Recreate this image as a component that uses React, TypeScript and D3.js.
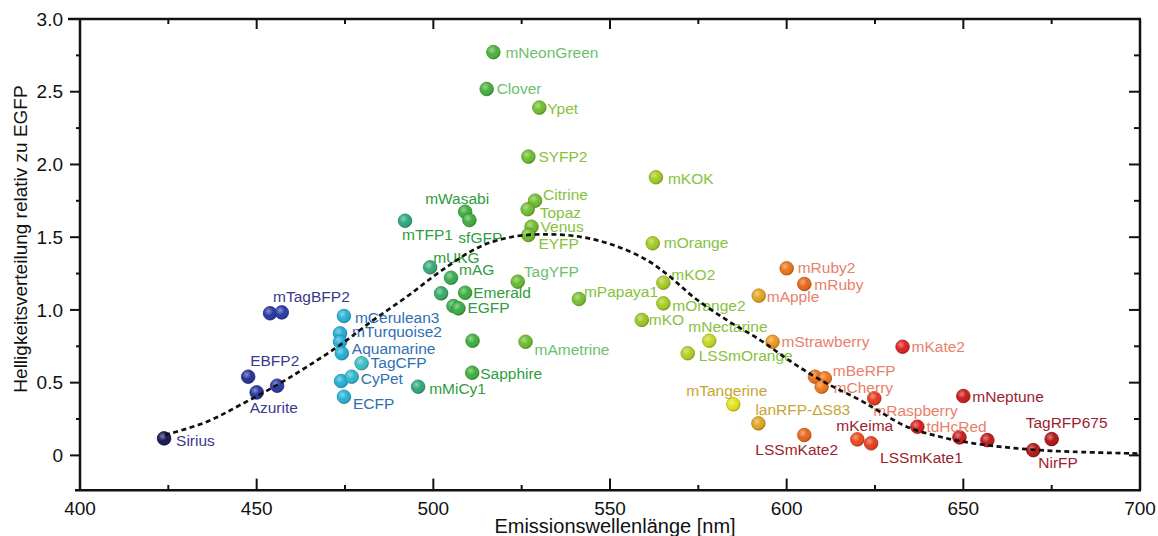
import React from "react";
import * as d3 from "d3";

// Fluoreszenzproteine: Emissionsmaximum (nm) und Helligkeit relativ zu EGFP
// leerer Name = Punkt ohne Beschriftung
const proteinNames = [
  "Sirius", "mTagBFP2", "", "EBFP2", "Azurite", "",
  "mCerulean3", "mTurquoise2", "", "Aquamarine", "TagCFP", "", "CyPet", "ECFP",
  "mMiCy1", "Sapphire", "mTFP1", "mWasabi", "sfGFP", "mUKG", "mAG", "", "Emerald",
  "", "EGFP", "", "mAmetrine", "TagYFP", "mPapaya1", "Citrine", "Topaz", "Venus",
  "EYFP", "mNeonGreen", "Clover", "Ypet", "SYFP2", "mKOK", "mOrange", "mKO2",
  "mOrange2", "mKO", "mNectarine", "LSSmOrange", "mTangerine", "lanRFP-ΔS83",
  "mApple", "mStrawberry", "mRuby2", "mRuby", "mKate2", "", "mBeRFP", "mCherry",
  "mRaspberry", "mKeima", "LSSmKate1", "LSSmKate2", "tdHcRed", "", "", "mNeptune",
  "TagRFP675", "NirFP",
];

const emissionNm = [
  423.8, 453.8, 457.1, 447.6, 450.0, 455.8,
  474.7, 473.6, 473.6, 474.1, 479.7, 473.9, 476.9, 474.7,
  495.7, 511.0, 492.0, 509.0, 510.2, 499.1, 505.0, 502.2, 509.0,
  505.7, 507.1, 511.1, 526.1, 523.9, 541.2, 528.8, 526.7, 527.8,
  526.9, 517.0, 515.1, 530.0, 526.9, 563.0, 562.1, 565.1,
  565.1, 559.0, 578.1, 572.0, 584.9, 592.0,
  592.1, 596.0, 600.0, 605.0, 632.8, 608.0, 610.8, 609.9,
  624.8, 620.0, 623.9, 605.0, 637.0, 648.9, 656.8, 650.0,
  675.0, 669.8,
];

const brightness = [
  0.117, 0.977, 0.983, 0.541, 0.433, 0.479,
  0.958, 0.839, 0.781, 0.702, 0.633, 0.511, 0.541, 0.403,
  0.472, 0.568, 1.613, 1.675, 1.618, 1.293, 1.221, 1.114, 1.118,
  1.027, 1.011, 0.788, 0.781, 1.194, 1.075, 1.751, 1.692, 1.572,
  1.515, 2.772, 2.519, 2.391, 2.054, 1.912, 1.458, 1.187,
  1.045, 0.931, 0.788, 0.702, 0.351, 0.220,
  1.098, 0.781, 1.286, 1.178, 0.747, 0.541, 0.530, 0.472,
  0.392, 0.110, 0.083, 0.140, 0.197, 0.124, 0.105, 0.408,
  0.112, 0.036,
];

// Farbgruppe der Beschriftung
const labelGroup = [
  "blau", "blau", "blau", "blau", "blau", "blau",
  "cyan", "cyan", "cyan", "cyan", "cyan", "cyan", "cyan", "cyan",
  "gruen", "gruen", "gruen", "gruen", "gruen", "gruen", "gruen", "gruen", "gruen",
  "gruen", "gruen", "gruen", "hellgruen", "hellgruen", "gelbgruen", "gelbgruen", "gelbgruen", "gelbgruen",
  "gelbgruen", "hellgruen", "hellgruen", "gelbgruen", "gelbgruen", "gelbgruen", "gelbgruen", "gelbgruen",
  "gelbgruen", "gelbgruen", "gelbgruen", "gelbgruen", "gelb", "gelb",
  "orange", "orange", "orange", "orange", "orange", "orange", "orange", "orange",
  "orange", "rot", "rot", "rot", "orange", "rot", "rot", "rot",
  "rot", "rot",
];

// gestrichelte Verteilungskurve
const curveNm = [
  424.1, 435.9, 445.3, 455.7, 464.2, 473.6, 483.0, 492.5, 501.9, 513.2, 522.5,
  532.1, 541.5, 550.9, 560.4, 567.0, 573.5, 583.0, 592.5, 601.8, 611.3, 620.8,
  626.4, 634.0, 643.4, 652.8, 662.3, 671.7, 681.0, 700.0,
];
const curveBrightness = [
  0.14, 0.231, 0.346, 0.483, 0.609, 0.759, 0.93, 1.091, 1.263, 1.435, 1.503,
  1.52, 1.503, 1.446, 1.343, 1.228, 1.091, 0.931, 0.793, 0.635, 0.495, 0.38,
  0.30, 0.197, 0.128, 0.083, 0.055, 0.036, 0.025, 0.012,
];

const xTicks = [400, 450, 500, 550, 600, 650, 700];
const yTicks = [0, 0.5, 1.0, 1.5, 2.0, 2.5, 3.0];

// Lage der Beschriftung relativ zum Punkt [dx, dy] in px
const labelOffset: Record<string, [number, number]> = {
  Sirius: [12, 8], mTagBFP2: [3, -11], EBFP2: [2, -11], Azurite: [-7, 21],
  mCerulean3: [11, 7], mTurquoise2: [12, 4], Aquamarine: [10, 1], TagCFP: [9, 5],
  CyPet: [9, 7], ECFP: [9, 12], mMiCy1: [11, 7], Sapphire: [8, 6], mTFP1: [-3, 19],
  mWasabi: [-40, -8], sfGFP: [-11, 23], mUKG: [3, -4], mAG: [8, -3], Emerald: [8, 5],
  EGFP: [9, 5], mAmetrine: [9, 13], TagYFP: [6, -5], mPapaya1: [5, -2], Citrine: [8, -1],
  Topaz: [12, 9], Venus: [9, 5], EYFP: [10, 14], mNeonGreen: [12, 6], Clover: [10, 5],
  Ypet: [8, 6], SYFP2: [10, 5], mKOK: [12, 7], mOrange: [11, 5], mKO2: [8, -3],
  mOrange2: [9, 8], mKO: [7, 5], mNectarine: [-21, -9], LSSmOrange: [11, 8],
  mTangerine: [-47, -8], "lanRFP-ΔS83": [-3, -8], mApple: [8, 6], mStrawberry: [9, 5],
  mRuby2: [11, 5], mRuby: [10, 6], mKate2: [9, 5], mBeRFP: [8, -2], mCherry: [12, 6],
  mRaspberry: [-1, 18], mKeima: [-21, -8], LSSmKate1: [9, 20], LSSmKate2: [-49, 20],
  tdHcRed: [9, 5], mNeptune: [9, 6], TagRFP675: [-26, -11], NirFP: [5, 18],
};

const labelColors: Record<string, string> = {
  blau: "#3a3a8c",
  cyan: "#2f70b2",
  gruen: "#2f9c40",
  hellgruen: "#6cbf6c",
  gelbgruen: "#86c23c",
  gelb: "#c8a532",
  orange: "#e9806a",
  rot: "#9b1e2e",
};

const pointColor = d3
  .scaleLinear<string>()
  .domain([424, 448, 458, 472, 476, 480, 492, 500, 508, 515, 527, 545, 563, 575, 585, 592, 598, 602, 610, 620, 633, 650, 676])
  .range([
    "#161655", "#26309a", "#2a3aa8", "#1ea8d8", "#28b4d0", "#3cc0c0", "#2aa87a",
    "#36a878", "#3aac3c", "#44b03a", "#70bc2c", "#7cc030", "#a2ca22", "#b4d020",
    "#e2e218", "#e0a420", "#f0901c", "#e2581a", "#f07818", "#ea4a1c", "#dd1e1e",
    "#c81a1a", "#b01414",
  ])
  .clamp(true);

export default function App() {
  const width = 1158;
  const height = 536;
  const left = 80, right = 1140, top = 19, bottom = 490.3;

  const x = d3.scaleLinear().domain([400, 700]).range([left, right]);
  const y = d3.scaleLinear().domain([-0.24, 3.0]).range([bottom, top]);

  const font = "'Liberation Sans', Arial, sans-serif";

  const curveLine = d3
    .line<number>()
    .x((d) => x(curveNm[d]))
    .y((d) => y(curveBrightness[d]))
    .curve(d3.curveCatmullRom.alpha(0.5));

  const xMinor = d3.range(400, 701, 25);
  const yMinor = d3.range(0, 3.01, 0.25);
  const isMajorX = (v: number) => v % 50 === 0;
  const isMajorY = (v: number) => Math.abs(v * 2 - Math.round(v * 2)) < 1e-6;

  const idx = d3.range(proteinNames.length);

  return (
    <svg
      width={width}
      height={height}
      style={{ position: "absolute", left: 0, top: 0, background: "#fff" }}
      fontFamily={font}
    >
      <defs>
        <radialGradient id="shine" cx="0.38" cy="0.35" r="0.65">
          <stop offset="0" stopColor="#fff" stopOpacity={0.45} />
          <stop offset="0.55" stopColor="#fff" stopOpacity={0} />
          <stop offset="1" stopColor="#000" stopOpacity={0.18} />
        </radialGradient>
      </defs>

      {/* Rahmen */}
      <g stroke="#111" strokeWidth={2.5} fill="none">
        <line x1={left - 12} x2={right + 1} y1={top} y2={top} />
        <line x1={left - 5} x2={right + 1} y1={bottom} y2={bottom} />
        <line x1={left} x2={left} y1={top} y2={bottom} />
        <line x1={right} x2={right} y1={top} y2={bottom} />
      </g>

      {/* Striche */}
      <g stroke="#111" strokeWidth={2}>
        {xMinor.map((v) => (
          <g key={"xt" + v}>
            <line x1={x(v)} x2={x(v)} y1={bottom} y2={bottom - (isMajorX(v) ? 11.7 : 5.3)} />
            <line x1={x(v)} x2={x(v)} y1={top} y2={top + (isMajorX(v) ? 10 : 5)} />
          </g>
        ))}
        {yMinor.map((v) => (
          <g key={"yt" + v}>
            <line x1={left} x2={left - (isMajorY(v) ? 10 : 4)} y1={y(v)} y2={y(v)} />
            <line x1={right} x2={right - (isMajorY(v) ? 11 : 6)} y1={y(v)} y2={y(v)} />
          </g>
        ))}
      </g>

      {/* Achsenbeschriftung */}
      <g fontSize={19} fill="#111">
        {xTicks.map((v) => (
          <text key={"xl" + v} x={x(v)} y={515} textAnchor="middle">
            {v}
          </text>
        ))}
        {yTicks.map((v) => (
          <text key={"yl" + v} x={63} y={y(v)} dy="0.35em" textAnchor="end">
            {v === 0 ? "0" : d3.format(".1f")(v)}
          </text>
        ))}
      </g>
      <text x={615} y={533} fontSize={20} textAnchor="middle" fill="#111">
        Emissionswellenlänge [nm]
      </text>
      <text
        transform={`translate(27,239) rotate(-90)`}
        fontSize={19}
        textAnchor="middle"
        fill="#111"
      >
        Helligkeitsverteilung relativ zu EGFP
      </text>

      {/* Punkte */}
      <g>
        {idx.map((i) => {
          const c = pointColor(emissionNm[i]);
          return (
            <g key={"p" + i}>
              <circle
                cx={x(emissionNm[i])}
                cy={y(brightness[i])}
                r={6.8}
                fill={c}
                stroke={d3.color(c)!.darker(0.6).formatHex()}
                strokeWidth={0.8}
              />
              <circle cx={x(emissionNm[i])} cy={y(brightness[i])} r={6.8} fill="url(#shine)" />
            </g>
          );
        })}
      </g>

      {/* Namen */}
      <g fontSize={15.5}>
        {idx
          .filter((i) => proteinNames[i] !== "")
          .map((i) => {
            const [dx, dy] = labelOffset[proteinNames[i]] || [10, 5];
            return (
              <text
                key={"t" + i}
                x={x(emissionNm[i]) + dx}
                y={y(brightness[i]) + dy}
                fill={labelColors[labelGroup[i]]}
              >
                {proteinNames[i]}
              </text>
            );
          })}
      </g>

      {/* Verteilungskurve */}
      <path
        d={curveLine(d3.range(curveNm.length)) || ""}
        fill="none"
        stroke="#111"
        strokeWidth={2.7}
        strokeDasharray="5 3.5"
      />
    </svg>
  );
}
